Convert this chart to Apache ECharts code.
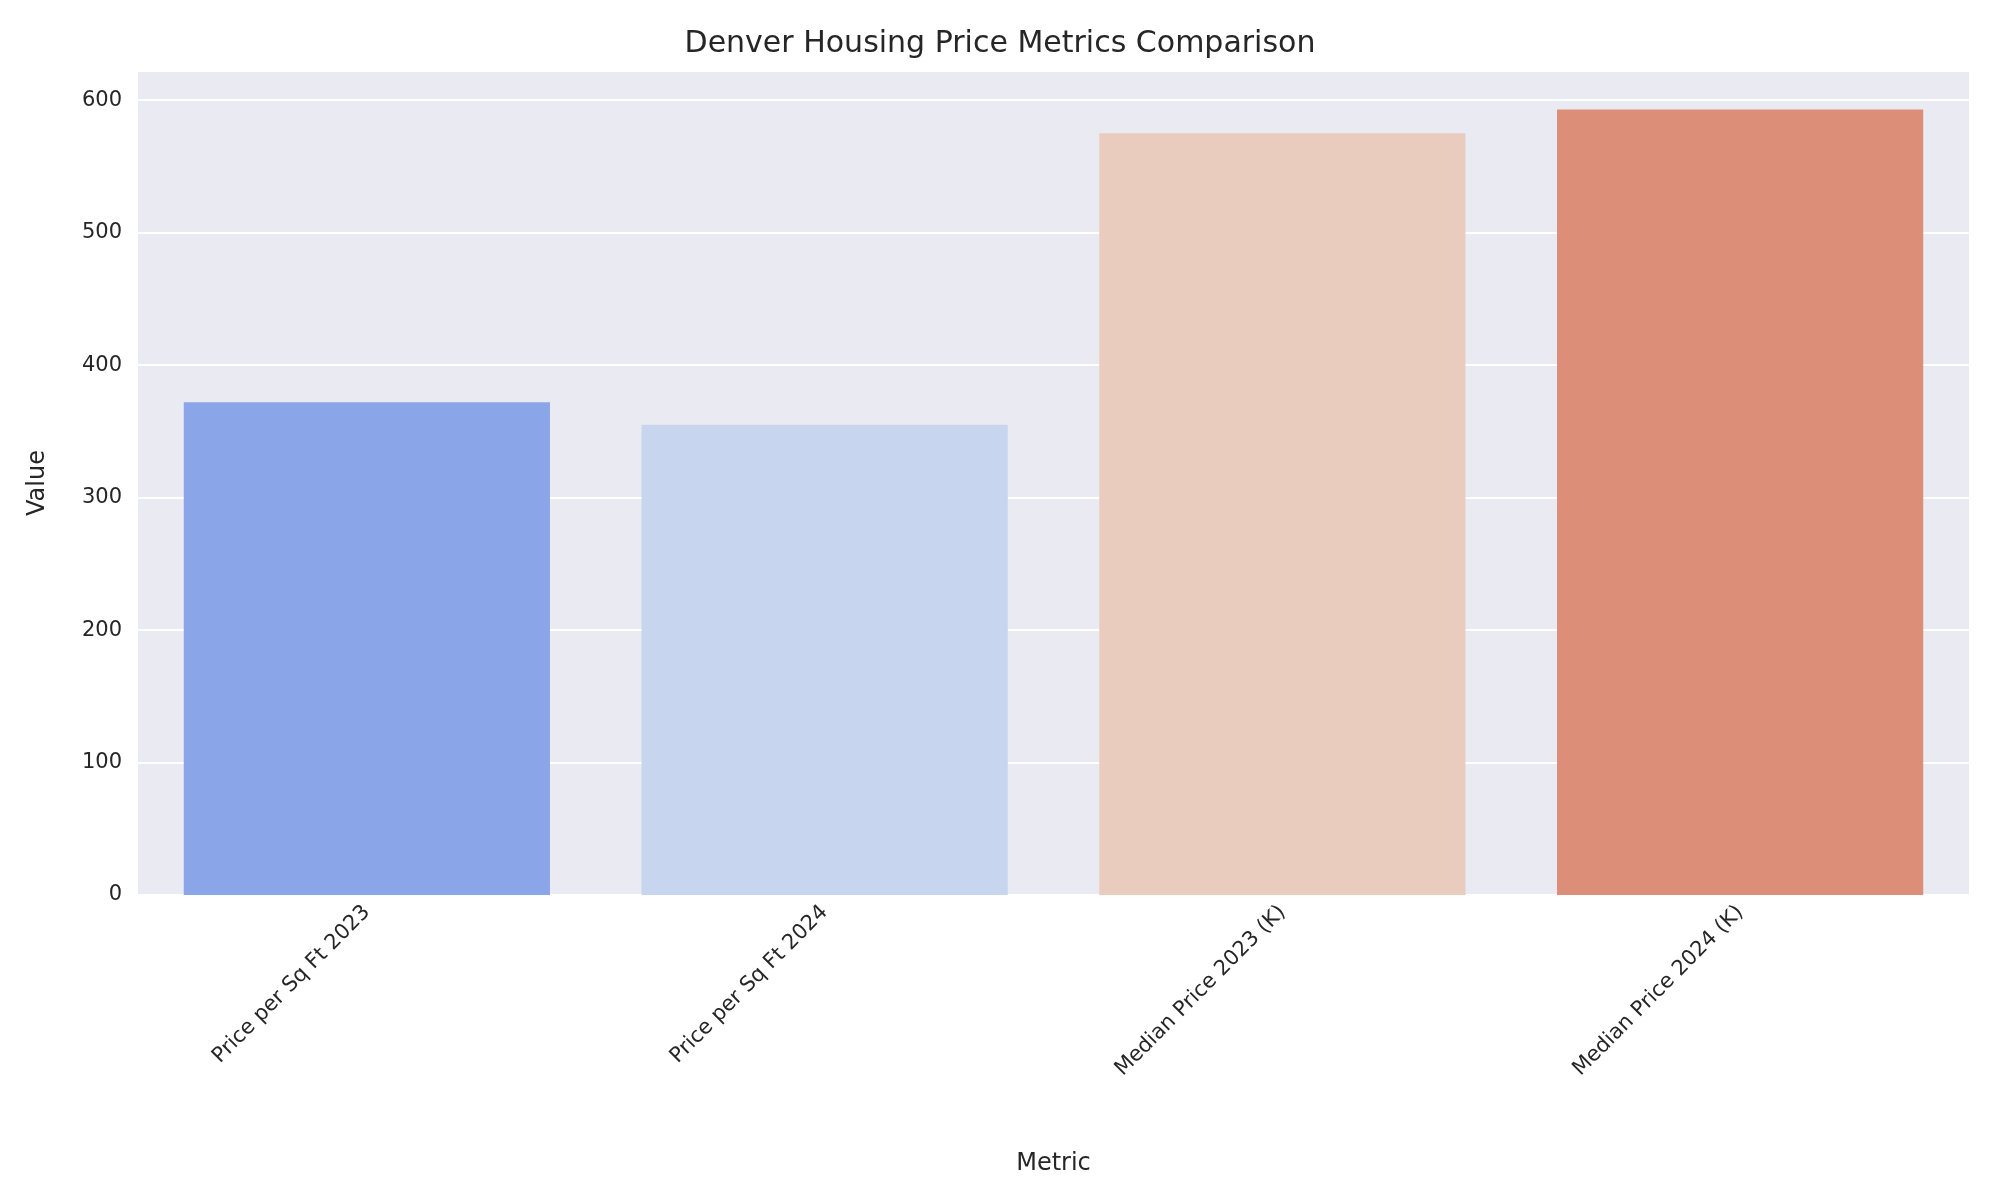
<!DOCTYPE html>
<html>
<head>
<meta charset="utf-8">
<script src="https://cdn.jsdelivr.net/npm/echarts@6/dist/echarts.min.js"></script>
<style>html,body{margin:0;padding:0;background:#fff}#chart{width:2000px;height:1200px}</style>
</head>
<body>
<div id="chart"></div>
<script>
const categories = ["Price per Sq Ft 2023", "Price per Sq Ft 2024", "Median Price 2023 (K)", "Median Price 2024 (K)"];
const values = [372, 355, 575, 593];
const barColors = ["#8aa6e8", "#c7d5ef", "#eaccbf", "#dc8e78"];

const chart = echarts.init(document.getElementById("chart"));
const textColor = "#262626";
chart.setOption({
  backgroundColor: "#fff",
  title: {
    text: "Denver Housing Price Metrics Comparison",
    left: "center",
    top: 24,
    textStyle: { fontFamily: "DejaVu Sans", fontSize: 30, fontWeight: "normal", color: textColor }
  },
  grid: { left: 138, right: 31, top: 71, bottom: 305, backgroundColor: "#eaeaf2", show: true, borderWidth: 0 },
  xAxis: {
    type: "category",
    data: categories,
    name: "Metric",
    nameLocation: "middle",
    nameGap: 257,
    nameTextStyle: { fontFamily: "DejaVu Sans", fontSize: 24, color: textColor },
    axisLine: { show: false },
    axisTick: { show: false },
    axisLabel: { rotate: 45, fontFamily: "DejaVu Sans", fontSize: 21, color: textColor, margin: 14 }
  },
  yAxis: {
    type: "value",
    min: 0,
    max: 622,
    interval: 100,
    name: "Value",
    nameLocation: "middle",
    nameGap: 88,
    nameTextStyle: { fontFamily: "DejaVu Sans", fontSize: 24, color: textColor },
    axisLine: { show: false },
    axisTick: { show: false },
    axisLabel: { fontFamily: "DejaVu Sans", fontSize: 21, color: textColor, margin: 16,
      formatter: v => (v % 100 === 0 ? v : "") },
    splitLine: { lineStyle: { color: "#ffffff", width: 2 } }
  },
  series: [{
    type: "bar",
    barCategoryGap: "20%",
    data: values.map((v, i) => ({ value: v, itemStyle: { color: barColors[i] } }))
  }]
});
</script>
</body>
</html>
